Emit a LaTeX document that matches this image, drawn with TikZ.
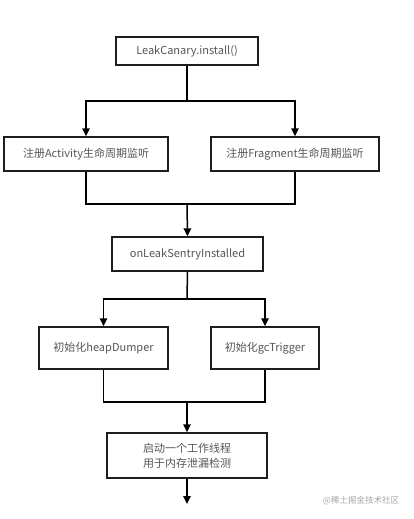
\documentclass[tikz,border=0pt]{standalone}
\usepackage{fontspec}
\usepackage{tikz}
\usetikzlibrary{arrows.meta, positioning}
\newfontfamily\cjkfont{Noto Sans CJK SC}
\definecolor{textgray}{RGB}{85, 85, 85}
\definecolor{linegray}{RGB}{30, 30, 30}
\definecolor{markgray}{RGB}{165, 165, 165}
\tikzset{
    box/.style={draw=linegray, line width=1.4pt, inner sep=2pt, align=center,
                text=textgray, font=\cjkfont\fontsize{11}{15}\selectfont},
    wire/.style={draw=black, line width=1.5pt},
    arr/.style={wire, -{Triangle[length=8pt, width=7.5pt]}}
}

\begin{document}
\begin{tikzpicture}[x=1pt, y=-1pt]
    \useasboundingbox (0,0) rectangle (413,519);
    % boxes
    \node[box, minimum width=142pt, minimum height=28pt] (install) at (187,51) {LeakCanary.install()};
    \node[box, minimum width=164pt, minimum height=34pt] (activity) at (86,154) {注册Activity生命周期监听};
    \node[box, minimum width=168pt, minimum height=34pt] (fragment) at (295,154) {注册Fragment生命周期监听};
    \node[box, minimum width=151pt, minimum height=34pt] (sentry) at (187.5,254) {onLeakSentryInstalled};
    \node[box, minimum width=129pt, minimum height=42pt] (heap) at (103.5,348) {初始化heapDumper};
    \node[box, minimum width=108pt, minimum height=42pt] (gc) at (265,348) {初始化gcTrigger};
    \node[box, minimum width=160pt, minimum height=45pt] (worker) at (187,455.5) {启动一个工作线程\\用于内存泄漏检测};
    % junctions
    \coordinate (split1) at (187,101);
    \coordinate (merge1) at (187,204);
    \coordinate (split2) at (187,299);
    \coordinate (merge2) at (187,402);
    \coordinate (out) at (187,504);
    % connectors
    \draw[wire] (install.south) -- (split1);
    \draw[arr] (split1) -| (activity.north);
    \draw[arr] (split1) -| (fragment.north);
    \draw[wire] (activity.south) |- (merge1);
    \draw[wire] (merge1) -| (fragment.south);
    \draw[arr] (merge1) -- (sentry.north);
    \draw[wire] (sentry.south) -- (split2);
    \draw[arr] (split2) -| (heap.north);
    \draw[arr] (split2) -| (gc.north);
    \draw[wire] (heap.south) |- (merge2);
    \draw[wire] (merge2) -| (gc.south);
    \draw[arr] (merge2) -- (worker.north);
    \draw[arr] (worker.south) -- (out);
    % watermark
    \node[text=markgray, font=\cjkfont\fontsize{8.5}{10}\selectfont] (mark) at (361,501) {@稀土掘金技术社区};
\end{tikzpicture}
\end{document}
